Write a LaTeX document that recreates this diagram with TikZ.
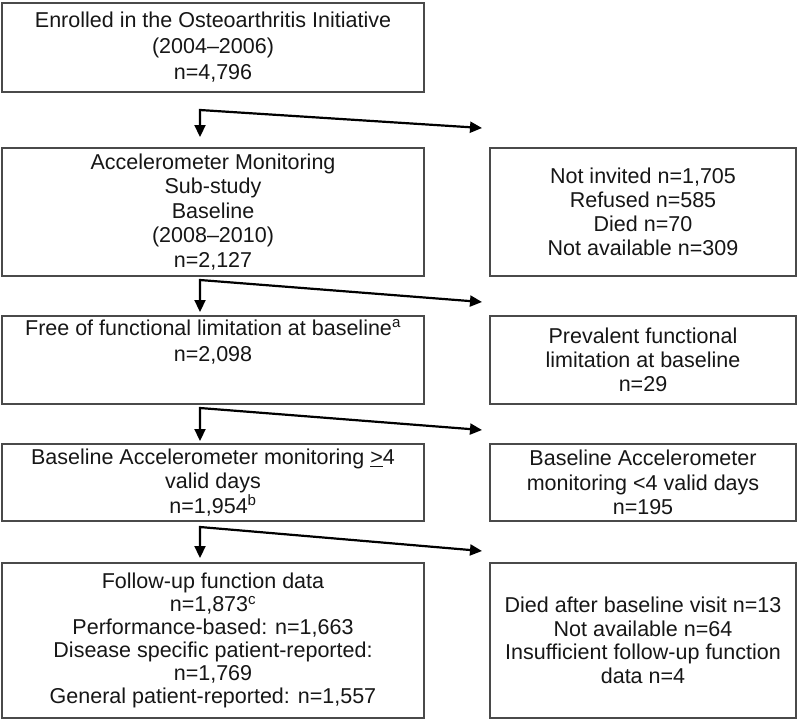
\documentclass[tikz,border=0pt]{standalone}
\usepackage{fontspec}
\setmainfont{Liberation Sans}
\usetikzlibrary{arrows.meta}
\definecolor{boxgray}{HTML}{4A4A4A}
\definecolor{ink}{HTML}{161616}
\newcommand\fsz[1]{\fontsize{21.5}{#1}\selectfont}
\tikzset{
  box/.style={draw=boxgray, line width=1.8pt, inner sep=0pt, align=center, text=ink, font=\fsz{25}},
  lbox/.style={box, minimum width=422pt},
  rbox/.style={box, minimum width=306pt},
  txt/.style={inner sep=0pt, align=center, text=ink},
  arr/.style={draw=black, line width=2.2pt, line join=miter,
    {Triangle[length=12pt,width=11pt]}-{Triangle[length=12pt,width=11pt]}}
}
\begin{document}
\begin{tikzpicture}[x=1pt,y=-1pt]
\useasboundingbox (0,0) rectangle (800,721);
% boxes
\node[lbox, minimum height=89pt, font=\fsz{26}] (b1) at (213,47.5)
  {Enrolled in the Osteoarthritis Initiative\\(2004–2006)\\n=4,796};
\node[lbox, minimum height=128pt, font=\fsz{24.5}] (b2) at (213,212)
  {Accelerometer Monitoring\\Sub-study\\Baseline\\(2008–2010)\\n=2,127};
\node[rbox, minimum height=128pt, font=\fsz{24}] (r2) at (643,212)
  {Not invited n=1,705\\Refused n=585\\Died n=70\\Not available n=309};
\node[lbox, minimum height=88pt] (b3) at (213,360) {};
\node[txt, font=\fsz{26}] (b3t) at (213,342)
  {Free of functional limitation at baseline\textsuperscript{a}\\n=2,098};
\node[rbox, minimum height=88pt, font=\fsz{24}] (r3) at (643,360)
  {Prevalent functional\\limitation at baseline\\n=29};
\node[lbox, minimum height=77pt, font=\fsz{24.5}] (b4) at (213,482.5)
  {Baseline Accelerometer monitoring \underline{>}4\\valid days\\n=1,954\textsuperscript{b}};
\node[rbox, minimum height=77pt, font=\fsz{24.5}] (r4) at (643,482.5)
  {Baseline Accelerometer\\monitoring <4 valid days\\n=195};
\node[lbox, minimum height=155pt, font=\fsz{23}] (b5) at (213,640.5)
  {Follow-up function data\\n=1,873\textsuperscript{c}\\Performance-based: n=1,663\\Disease specific patient-reported:\\n=1,769\\General patient-reported: n=1,557};
\node[rbox, minimum height=155pt, font=\fsz{23.5}] (r5) at (643,640.5)
  {Died after baseline visit n=13\\Not available n=64\\Insufficient follow-up function\\data n=4};
% connector points
\coordinate (k1) at (200,110); \coordinate (t1) at (200,137); \coordinate (d1) at (482,128);
\coordinate (k2) at (200,280); \coordinate (t2) at (200,312); \coordinate (d2) at (482,302);
\coordinate (k3) at (200,408); \coordinate (t3) at (200,441); \coordinate (d3) at (482,430);
\coordinate (k4) at (200,527); \coordinate (t4) at (200,558); \coordinate (d4) at (482,551);
\draw[arr] (t1) -- (k1) -- (d1);
\draw[arr] (t2) -- (k2) -- (d2);
\draw[arr] (t3) -- (k3) -- (d3);
\draw[arr] (t4) -- (k4) -- (d4);
\end{tikzpicture}
\end{document}
